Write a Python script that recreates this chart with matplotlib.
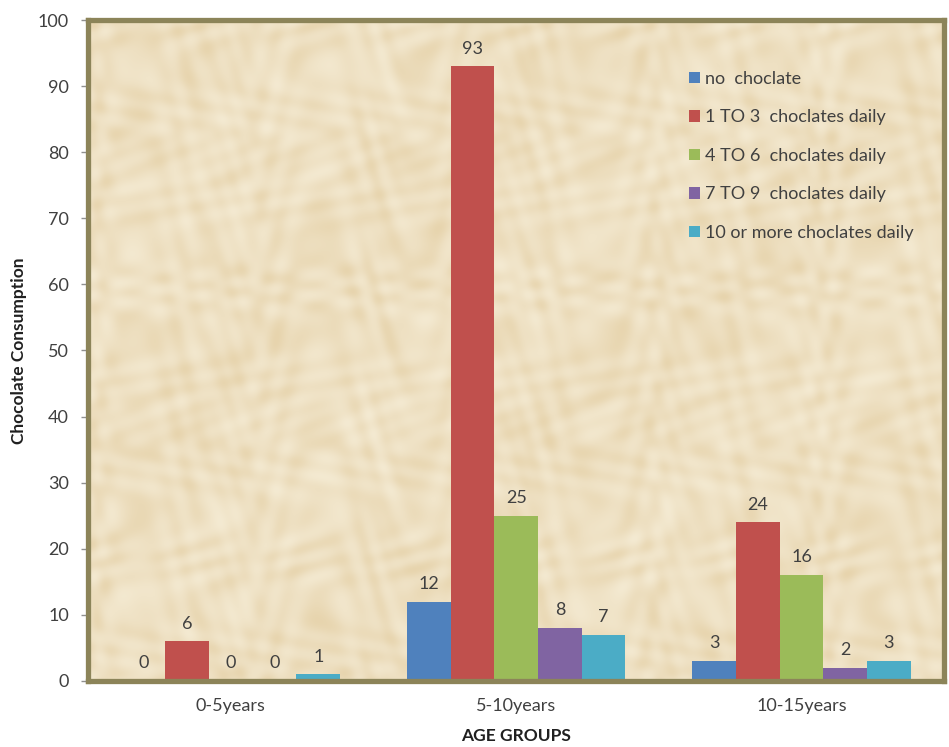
import matplotlib.pyplot as plt
from matplotlib.colors import LinearSegmentedColormap
import numpy as np

plt.rcParams['font.family'] = ['Lato', 'DejaVu Sans']

# -------------------------- data --------------------------
age_groups = ['0-5years', '5-10years', '10-15years']
series_names = ['no  choclate', '1 TO 3  choclates daily', '4 TO 6  choclates daily',
                '7 TO 9  choclates daily', '10 or more choclates daily']
no_choc = [0, 12, 3]
choc_1_3 = [6, 93, 24]
choc_4_6 = [0, 25, 16]
choc_7_9 = [0, 8, 2]
choc_10_plus = [1, 7, 3]

series = [no_choc, choc_1_3, choc_4_6, choc_7_9, choc_10_plus]
colors = ['#4F81BD', '#C0504D', '#9BBB59', '#8064A2', '#4BACC6']

# -------------------------- figure --------------------------
fig = plt.figure(figsize=(9.49, 7.47), dpi=100)
ax = fig.add_axes([0.093, 0.0884, 0.902, 0.8848])

# parchment-like backdrop made of overlapping waves
gx, gy = np.meshgrid(np.linspace(0, 1, 600), np.linspace(0, 1, 450))
tex = (np.sin(47 * gx + 9 * np.sin(23 * gy)) + np.sin(41 * gy + 8 * np.sin(29 * gx))
       + 0.7 * np.sin(97 * gx + 83 * gy + 4 * np.sin(31 * gy))
       + 0.6 * np.sin(113 * gx - 71 * gy + 5 * np.sin(37 * gx))
       + 0.5 * np.sin(13 * gx + 11 * gy))
parchment = LinearSegmentedColormap.from_list('parch', ['#F4EAD2', '#EEE0C2', '#E7D4AD'])
ax.imshow(tex, cmap=parchment, extent=(-0.5, 2.5, 0, 100), aspect='auto', zorder=0,
          interpolation='bilinear')

text_color = '#404040'
bar_width = 0.153
x = np.arange(len(age_groups))

for i, (vals, name, c) in enumerate(zip(series, series_names, colors)):
    pos = x + (i - 2) * bar_width
    ax.bar(pos, vals, width=bar_width, color=c, label=name, zorder=3, linewidth=0)
    for p, v in zip(pos, vals):
        ax.annotate(str(v), xy=(p, v), xytext=(0, 7), textcoords='offset points',
                    ha='center', va='bottom', fontsize=13, color=text_color)

ax.set_xlim(-0.5, 2.5)
ax.set_ylim(0, 100)
ax.set_yticks(np.arange(0, 101, 10))
ax.set_xticks(x)
ax.set_xticklabels(age_groups)

ax.tick_params(axis='y', labelsize=13, colors='#909090', labelcolor=text_color,
               length=5, width=1, pad=9)
ax.tick_params(axis='x', labelsize=13, labelcolor=text_color, length=0, pad=12)

for s in ax.spines.values():
    s.set_color('#8C8459')
    s.set_linewidth(3.8)
    s.set_zorder(5)

ax.set_xlabel('AGE GROUPS', fontsize=12.5, fontweight='bold', color='#202020', labelpad=10)
ax.set_ylabel('Chocolate Consumption', fontsize=12.5, fontweight='bold', color='#202020', labelpad=8)

leg = ax.legend(loc='upper left', bbox_to_anchor=(0.683, 0.948), frameon=False,
                fontsize=13, handlelength=0.6, handleheight=0.6, handletextpad=0.3,
                labelspacing=1.25, labelcolor=text_color)

fig.savefig('out.png', dpi=100)
